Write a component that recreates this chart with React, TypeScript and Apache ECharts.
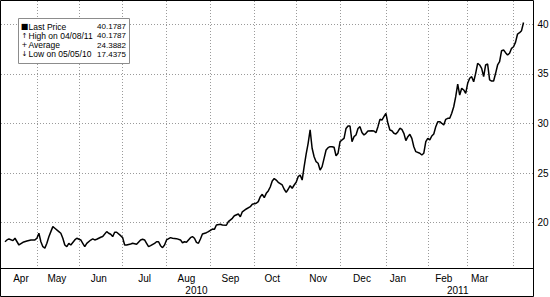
import React, { useEffect, useRef } from "react";
import * as echarts from "echarts";

// Axis range (trading weekdays)
const AXIS_START = "2010-04-07";
const AXIS_END = "2011-04-15";

const MONTH_NAMES = ["Jan", "Feb", "Mar", "Apr", "May", "Jun", "Jul", "Aug", "Sep", "Oct", "Nov", "Dec"];
// dates at which month tick labels sit
const monthLabelDates = [
  "2010-04-21", "2010-05-17", "2010-06-15", "2010-07-16", "2010-08-16", "2010-09-15",
  "2010-10-14", "2010-11-16", "2010-12-16", "2011-01-11", "2011-02-11", "2011-03-09",
];
const yearLabelDates = ["2010-08-23", "2011-02-22"];
const yTicks = [20, 25, 30, 35, 40];

const legendIcons = ["\u25A0", "\u2191", "+", "\u2193"];
const legendLabels = ["Last Price", "High on 04/08/11", "Average", "Low on 05/05/10"];
const legendValues = ["40.1787", "40.1787", "24.3882", "17.4375"];

const prices: [string, number][] = [
  ["2010-04-09", 18.08], ["2010-04-12", 18.26], ["2010-04-13", 18.36], ["2010-04-15", 18.19],
  ["2010-04-16", 18.43], ["2010-04-20", 17.75], ["2010-04-22", 18.02], ["2010-04-26", 18.16],
  ["2010-04-28", 18.26], ["2010-04-30", 18.26], ["2010-05-03", 18.43], ["2010-05-04", 18.93],
  ["2010-05-05", 18.08], ["2010-05-06", 17.58], ["2010-05-07", 17.4375], ["2010-05-10", 17.92],
  ["2010-05-11", 18.59], ["2010-05-12", 19.1], ["2010-05-13", 19.6], ["2010-05-14", 19.44],
  ["2010-05-18", 19.1], ["2010-05-19", 18.93], ["2010-05-20", 18.43], ["2010-05-21", 17.75],
  ["2010-05-24", 17.58], ["2010-05-25", 17.92], ["2010-05-26", 17.75], ["2010-05-28", 18.26],
  ["2010-05-31", 18.43], ["2010-06-02", 18.26], ["2010-06-03", 17.92], ["2010-06-04", 17.58],
  ["2010-06-07", 17.92], ["2010-06-09", 18.25], ["2010-06-10", 18.36], ["2010-06-11", 18.26],
  ["2010-06-14", 18.33], ["2010-06-16", 18.53], ["2010-06-17", 18.6], ["2010-06-21", 19.1],
  ["2010-06-22", 18.93], ["2010-06-23", 18.83], ["2010-06-24", 18.6], ["2010-06-25", 19.03],
  ["2010-06-28", 19.03], ["2010-06-30", 18.69], ["2010-07-01", 18.49], ["2010-07-02", 17.75],
  ["2010-07-05", 17.75], ["2010-07-07", 17.85], ["2010-07-08", 17.92], ["2010-07-12", 17.82],
  ["2010-07-14", 18.26], ["2010-07-15", 18.33], ["2010-07-16", 18.26], ["2010-07-19", 17.92],
  ["2010-07-20", 17.58], ["2010-07-21", 17.68], ["2010-07-23", 17.92], ["2010-07-26", 18.08],
  ["2010-07-27", 18.08], ["2010-07-28", 17.68], ["2010-07-29", 17.48], ["2010-07-30", 17.75],
  ["2010-08-02", 18.26], ["2010-08-04", 18.49], ["2010-08-05", 18.43], ["2010-08-09", 18.39],
  ["2010-08-11", 18.26], ["2010-08-12", 17.98], ["2010-08-13", 18.08], ["2010-08-16", 18.02],
  ["2010-08-18", 18.49], ["2010-08-19", 18.59], ["2010-08-20", 18.43], ["2010-08-23", 18.02],
  ["2010-08-24", 17.92], ["2010-08-25", 18.36], ["2010-08-26", 18.86], ["2010-08-30", 18.99],
  ["2010-08-31", 19.09], ["2010-09-02", 19.36], ["2010-09-03", 19.33], ["2010-09-06", 19.77],
  ["2010-09-08", 19.84], ["2010-09-09", 19.77], ["2010-09-13", 19.74], ["2010-09-14", 20.1],
  ["2010-09-16", 20.44], ["2010-09-17", 20.7], ["2010-09-21", 20.88], ["2010-09-22", 20.6],
  ["2010-09-23", 21.1], ["2010-09-27", 21.38], ["2010-09-29", 21.61], ["2010-09-30", 21.85],
  ["2010-10-04", 21.96], ["2010-10-05", 22.12], ["2010-10-06", 22.62], ["2010-10-07", 22.86],
  ["2010-10-08", 22.52], ["2010-10-11", 22.96], ["2010-10-12", 23.2], ["2010-10-13", 23.6],
  ["2010-10-14", 24.2], ["2010-10-15", 24.45], ["2010-10-18", 24.3], ["2010-10-19", 24.07],
  ["2010-10-21", 23.8], ["2010-10-22", 23.37], ["2010-10-25", 23.06], ["2010-10-26", 23.37],
  ["2010-10-27", 23.73], ["2010-10-28", 23.47], ["2010-10-29", 23.8], ["2010-11-01", 24.07],
  ["2010-11-02", 24.64], ["2010-11-03", 24.81], ["2010-11-04", 24.3], ["2010-11-05", 25.65],
  ["2010-11-08", 26.9], ["2010-11-09", 28.0], ["2010-11-10", 29.35], ["2010-11-11", 27.5],
  ["2010-11-12", 26.65], ["2010-11-15", 26.15], ["2010-11-16", 25.99], ["2010-11-17", 25.31],
  ["2010-11-18", 25.65], ["2010-11-19", 26.49], ["2010-11-22", 27.33], ["2010-11-23", 27.56],
  ["2010-11-24", 27.66], ["2010-11-25", 27.66], ["2010-11-26", 27.6], ["2010-11-29", 26.75],
  ["2010-11-30", 27.0], ["2010-12-01", 28.17], ["2010-12-02", 28.34], ["2010-12-03", 28.5],
  ["2010-12-06", 29.5], ["2010-12-07", 29.75], ["2010-12-08", 29.75], ["2010-12-09", 28.17],
  ["2010-12-10", 28.67], ["2010-12-13", 28.84], ["2010-12-14", 29.5], ["2010-12-15", 29.68],
  ["2010-12-16", 29.1], ["2010-12-17", 28.84], ["2010-12-20", 29.01], ["2010-12-21", 29.24],
  ["2010-12-23", 29.27], ["2010-12-24", 29.24], ["2010-12-27", 29.07], ["2010-12-28", 29.68],
  ["2010-12-29", 30.42], ["2010-12-30", 30.35], ["2010-12-31", 30.69], ["2011-01-03", 31.03],
  ["2011-01-04", 30.02], ["2011-01-05", 29.35], ["2011-01-06", 29.27], ["2011-01-07", 29.01],
  ["2011-01-10", 28.94], ["2011-01-11", 29.17], ["2011-01-12", 29.52], ["2011-01-13", 29.41],
  ["2011-01-14", 29.01], ["2011-01-17", 28.27], ["2011-01-18", 28.67], ["2011-01-19", 28.91],
  ["2011-01-20", 28.5], ["2011-01-21", 27.66], ["2011-01-24", 27.16], ["2011-01-26", 27.0],
  ["2011-01-27", 26.82], ["2011-01-28", 27.0], ["2011-01-31", 28.17], ["2011-02-01", 28.5],
  ["2011-02-02", 28.34], ["2011-02-03", 28.74], ["2011-02-04", 28.94], ["2011-02-07", 29.68],
  ["2011-02-08", 30.18], ["2011-02-09", 30.18], ["2011-02-10", 30.02], ["2011-02-11", 29.85],
  ["2011-02-14", 30.42], ["2011-02-15", 30.52], ["2011-02-16", 30.52], ["2011-02-17", 31.03],
  ["2011-02-18", 31.69], ["2011-02-21", 32.7], ["2011-02-22", 33.98], ["2011-02-23", 32.87],
  ["2011-02-24", 33.55], ["2011-02-25", 33.38], ["2011-02-28", 33.04], ["2011-03-01", 34.05],
  ["2011-03-02", 34.56], ["2011-03-03", 34.72], ["2011-03-04", 34.21], ["2011-03-07", 35.06],
  ["2011-03-08", 36.07], ["2011-03-09", 35.9], ["2011-03-10", 35.56], ["2011-03-11", 34.72],
  ["2011-03-14", 35.9], ["2011-03-15", 36.0], ["2011-03-16", 34.39], ["2011-03-17", 34.28],
  ["2011-03-18", 34.28], ["2011-03-21", 35.06], ["2011-03-22", 35.9], ["2011-03-23", 36.23],
  ["2011-03-24", 37.34], ["2011-03-25", 37.41], ["2011-03-28", 37.14], ["2011-03-29", 36.9],
  ["2011-03-30", 37.08], ["2011-03-31", 37.58], ["2011-04-01", 37.74], ["2011-04-04", 38.2],
  ["2011-04-05", 39.02], ["2011-04-06", 39.15], ["2011-04-07", 39.36], ["2011-04-08", 40.1787],
];

function pad(n: number) {
  return n < 10 ? "0" + n : "" + n;
}

function buildWeekdays(start: string, end: string): string[] {
  const out: string[] = [];
  const d = new Date(start + "T00:00:00Z");
  const e = new Date(end + "T00:00:00Z");
  while (d.getTime() <= e.getTime()) {
    const wd = d.getUTCDay();
    if (wd !== 0 && wd !== 6) {
      out.push(d.getUTCFullYear() + "-" + pad(d.getUTCMonth() + 1) + "-" + pad(d.getUTCDate()));
    }
    d.setUTCDate(d.getUTCDate() + 1);
  }
  return out;
}

const days = buildWeekdays(AXIS_START, AXIS_END);

const FONT = '"Liberation Sans", Arial, sans-serif';

export default function App() {
  const ref = useRef<HTMLDivElement>(null);

  useEffect(() => {
    if (!ref.current) return;
    const chart = echarts.init(ref.current, null, { renderer: "svg" });

    const monthSet = new Set(monthLabelDates);
    const yearSet = new Set(yearLabelDates);

    const legendEls: any[] = [
      {
        type: "rect",
        shape: { x: 18.5, y: 18.5, width: 111, height: 45 },
        style: { fill: "#fff", stroke: "#8c8c8c", lineWidth: 1 },
        z: 100,
      },
    ];
    const rowY = [26.8, 35.9, 45.0, 54.1];
    legendLabels.forEach((lab, i) => {
      legendEls.push({
        type: "text",
        z: 101,
        style: {
          text: legendIcons[i],
          x: 24.5,
          y: rowY[i],
          align: "center",
          verticalAlign: "middle",
          font: (i === 0 ? "8px" : "7px") + ' "DejaVu Sans", sans-serif',
          fill: "#000",
        },
      });
      legendEls.push({
        type: "text",
        z: 101,
        style: {
          text: lab,
          x: 28.5,
          y: rowY[i],
          align: "left",
          verticalAlign: "middle",
          font: "8.5px " + FONT,
          fill: "#000",
        },
      });
      legendEls.push({
        type: "text",
        z: 101,
        style: {
          text: legendValues[i],
          x: 126,
          y: rowY[i],
          align: "right",
          verticalAlign: "middle",
          font: "8px " + FONT,
          fill: "#000",
        },
      });
    });

    chart.setOption({
      animation: false,
      backgroundColor: "#fff",
      grid: {
        left: 1,
        right: 16.5,
        top: 1,
        bottom: 28.5,
        containLabel: false,
        outerBoundsMode: "none",
      },
      xAxis: [
        {
          type: "category",
          data: days,
          boundaryGap: false,
          position: "bottom",
          axisLine: { show: true, lineStyle: { color: "#000", width: 1 } },
          axisTick: { show: false },
          axisLabel: {
            interval: (_i: number, v: string) => monthSet.has(v),
            formatter: (v: string) => MONTH_NAMES[parseInt(v.slice(5, 7), 10) - 1],
            color: "#000",
            fontFamily: FONT,
            fontSize: 10,
            margin: 5,
          },
          splitLine: {
            show: true,
            interval: (i: number, v: string) => i > 0 && v.slice(5, 7) !== days[i - 1].slice(5, 7),
            lineStyle: { color: "#9a9a9a", type: [1, 2], width: 1 },
          },
        },
        {
          type: "category",
          data: days,
          boundaryGap: false,
          position: "bottom",
          offset: 12,
          axisLine: { show: false },
          axisTick: { show: false },
          splitLine: { show: false },
          axisLabel: {
            interval: (_i: number, v: string) => yearSet.has(v),
            formatter: (v: string) => v.slice(0, 4),
            color: "#000",
            fontFamily: FONT,
            fontSize: 10,
            margin: 5,
          },
        },
      ],
      yAxis: {
        type: "value",
        position: "right",
        min: 15.38,
        max: 42.35,
        axisLine: { show: false },
        axisTick: { show: false, customValues: yTicks },
        axisLabel: {
          customValues: yTicks,
          color: "#000",
          fontFamily: FONT,
          fontSize: 10,
          margin: 4,
        },
        splitLine: {
          show: true,
          lineStyle: { color: "#9a9a9a", type: [1, 2], width: 1 },
        },
      },
      series: [
        {
          type: "line",
          xAxisIndex: 0,
          data: prices,
          showSymbol: false,
          symbol: "none",
          lineStyle: { color: "#000", width: 1.5 },
          z: 5,
        },
      ],
      graphic: {
        elements: [
          {
            type: "rect",
            shape: { x: 0.5, y: 0.5, width: 533, height: 296 },
            style: { fill: "none", stroke: "#000", lineWidth: 1 },
            z: 50,
            silent: true,
          },
          ...legendEls,
        ],
      },
    });

    return () => chart.dispose();
  }, []);

  return (
    <div
      ref={ref}
      style={{ position: "absolute", left: 0, top: 0, width: 550, height: 297 }}
    />
  );
}
